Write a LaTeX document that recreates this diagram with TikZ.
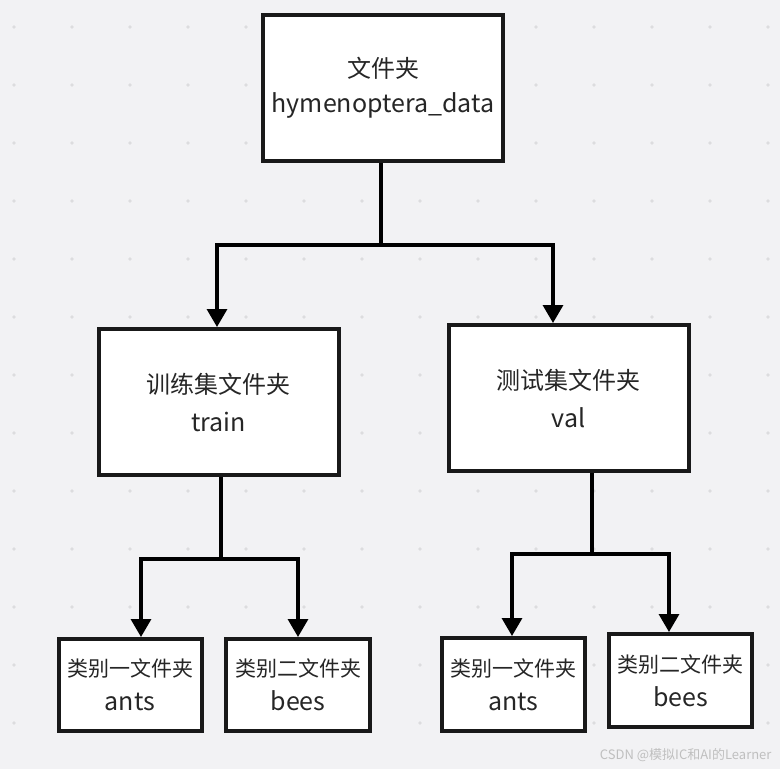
\documentclass[tikz,border=0pt]{standalone}
\usepackage{fontspec}
\setmainfont{Noto Sans CJK SC}
\usepackage{xcolor}
\usepackage{tikz}
\usetikzlibrary{arrows.meta, positioning, calc}

\definecolor{bgc}{HTML}{F2F2F4}
\definecolor{dotc}{HTML}{DCDCDE}
\definecolor{txtc}{HTML}{262626}
\newcommand{\latin}[1]{{\fontsize{25}{34}\selectfont #1}}

\begin{document}
\begin{tikzpicture}[x=1pt, y=-1pt,
    folder/.style={draw=black!90, fill=white, line width=4pt, align=center, text=txtc, inner sep=0pt},
    bigbox/.style={folder, minimum width=240pt, minimum height=146pt, font=\fontsize{24}{38}\selectfont},
    smallbox/.style={folder, minimum width=143pt, minimum height=92pt, font=\fontsize{21}{34}\selectfont},
    conn/.style={line width=3.3pt, black},
    arr/.style={conn, -{Triangle[width=20pt,length=18pt]}}
  ]
  % Background with dot grid
  \fill[bgc] (0,0) rectangle (780,769);
  \useasboundingbox (0,0) rectangle (780,769);
  \foreach \i in {0,...,13}
    \foreach \j in {0,...,12}
      \fill[dotc] (14+58*\i, 27+58*\j) circle (1.8);
  % Folders
  \node[bigbox] (data) at (383,88) {\raisebox{-3pt}{文件夹}\\\latin{hymenoptera\_data}};
  \node[bigbox] (train) at (218.5,402) {训练集文件夹\\\latin{train}};
  \node[bigbox] (val) at (568.5,398) {测试集文件夹\\\latin{val}};
  \node[smallbox] (antsA) at (130,685) {类别一文件夹\\\latin{ants}};
  \node[smallbox, minimum width=144pt] (beesA) at (298,685) {类别二文件夹\\\latin{bees}};
  \node[smallbox, minimum height=93pt] (antsB) at (513.5,684.5) {类别一文件夹\\\latin{ants}};
  \node[smallbox, minimum height=93pt] (beesB) at (680.5,680.5) {类别二文件夹\\\latin{bees}};
  % Junctions
  \coordinate (jdata) at (381,245);
  \coordinate (jtrain) at (221,559);
  \coordinate (jval) at (592,554);
  % data -> train, val
  \draw[conn] ([xshift=-2pt]data.south) -- (jdata);
  \draw[arr] (jdata) -| ([xshift=-1.5pt]train.north);
  \draw[arr] (jdata) -| ([xshift=-15.5pt]val.north);
  % train -> ants, bees
  \draw[conn] ([xshift=2.5pt]train.south) -- (jtrain);
  \draw[arr] (jtrain) -| ([xshift=11pt]antsA.north);
  \draw[arr] (jtrain) -| (beesA.north);
  % val -> ants, bees
  \draw[conn] ([xshift=23.5pt]val.south) -- (jval);
  \draw[arr] (jval) -| ([xshift=-1.5pt]antsB.north);
  \draw[arr] (jval) -| ([xshift=-11.5pt]beesB.north);
  % Watermark
  \node[text=black!25, font=\fontsize{13}{15}\selectfont, anchor=east] (mark) at (775,755) {CSDN @模拟IC和AI的Learner};
\end{tikzpicture}
\end{document}
